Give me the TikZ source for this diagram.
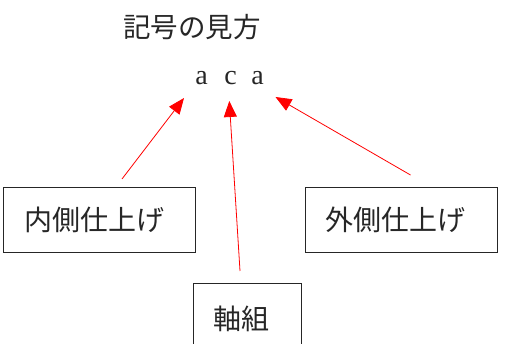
\documentclass[tikz,border=0pt]{standalone}
\usepackage{fontspec}
\newfontfamily\cjk{Noto Sans CJK JP}
\newfontfamily\latn{Liberation Serif}
\usetikzlibrary{arrows.meta}
\begin{document}
\begin{tikzpicture}[x=1pt,y=1pt,
  labelbox/.style={draw=black!85,line width=0.9pt,font=\cjk\fontsize{28}{28}\selectfont,text=black!85,anchor=north west,align=left,inner ysep=0pt},
  letter/.style={font=\latn\fontsize{28}{28}\selectfont,text=black!85,anchor=base,inner sep=0pt},
  pointer/.style={draw=red,line width=0.8pt,-{Triangle[length=16pt,width=13pt]}}]
\useasboundingbox (0,0) rectangle (522,344);
\clip (0,0) rectangle (522,344);
\node[font=\cjk\fontsize{27.5}{27.5}\selectfont,text=black!85] (title) at (192,317) {記号の見方};
\node[letter] (a1) at (201.5,259) {a};
\node[letter] (c) at (230.5,259) {c};
\node[letter] (a2) at (257.5,259) {a};
\node[labelbox,minimum width=192pt,minimum height=65pt,text width=150pt,inner xsep=21pt] (inner) at (3,157) {内側仕上げ};
\node[labelbox,minimum width=192pt,minimum height=65pt,text width=152pt,inner xsep=20pt] (outer) at (305,157) {外側仕上げ};
\node[labelbox,minimum width=108pt,minimum height=70pt,text width=68pt,inner xsep=20pt] (frame) at (193,61) {軸組};
\coordinate (s1) at (122,165);
\coordinate (t1) at (184,246);
\coordinate (s2) at (240,73);
\coordinate (t2) at (229.3,243);
\coordinate (s3) at (410.5,169);
\coordinate (t3) at (275.5,247);
\draw[pointer] (s1) -- (t1);
\draw[pointer] (s2) -- (t2);
\draw[pointer] (s3) -- (t3);
\end{tikzpicture}
\end{document}
